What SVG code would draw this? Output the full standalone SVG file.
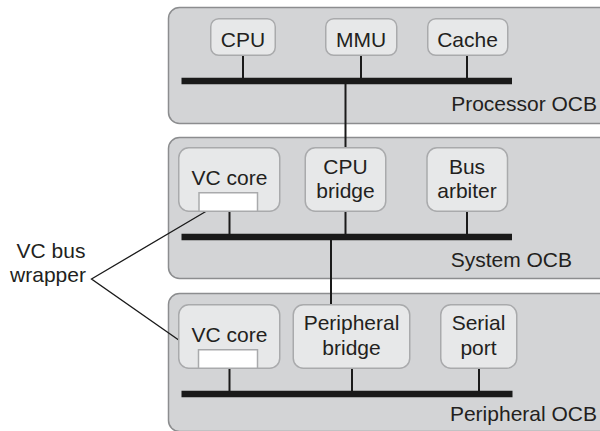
<svg xmlns="http://www.w3.org/2000/svg" width="600" height="431" viewBox="0 0 600 431">
<style>
.panel{fill:#d3d4d6;stroke:#8c8d8f;stroke-width:1.5}
.node{fill:#e7e8e9;stroke:#a9aaac;stroke-width:1.5}
.wrap{fill:#ffffff;stroke:#a9aaac;stroke-width:1.5}
.bus{stroke:#1a1a1a;stroke-width:6.5;fill:none}
.stub{stroke:#1a1a1a;stroke-width:2;fill:none}
.call{stroke:#1a1a1a;stroke-width:1.3;fill:none}
text{font-family:"Liberation Sans",Arial,sans-serif;font-size:21px;fill:#231f20}
.m{text-anchor:middle}
.e{text-anchor:end}
</style>
<rect width="600" height="431" fill="#ffffff"/>
<g id="processor-ocb">
<rect class="panel" x="168.5" y="7.5" width="445" height="116" rx="11"/>
<text class="e" x="597" y="111">Processor OCB</text>
</g>
<g id="system-ocb">
<rect class="panel" x="168.5" y="137.5" width="445" height="141" rx="11"/>
<text class="e" x="572" y="267">System OCB</text>
</g>
<g id="peripheral-ocb">
<rect class="panel" x="168.5" y="293.5" width="445" height="138" rx="11"/>
<text class="e" x="597" y="421">Peripheral OCB</text>
</g>
<g id="connectors">
<line class="bus" x1="181.5" y1="81" x2="512" y2="81"/>
<line class="stub" x1="243" y1="55" x2="243" y2="78"/>
<line class="stub" x1="361" y1="55" x2="361" y2="78"/>
<line class="stub" x1="467" y1="55" x2="467" y2="78"/>
<line class="stub" x1="345.5" y1="84" x2="345.5" y2="148"/>
<line class="bus" x1="181.5" y1="237" x2="512" y2="237"/>
<line class="stub" x1="229.5" y1="211" x2="229.5" y2="234"/>
<line class="stub" x1="345.5" y1="211" x2="345.5" y2="234"/>
<line class="stub" x1="467" y1="211" x2="467" y2="234"/>
<line class="stub" x1="331" y1="240" x2="331" y2="304"/>
<line class="bus" x1="181.5" y1="394" x2="512.5" y2="394"/>
<line class="stub" x1="229.5" y1="368" x2="229.5" y2="391"/>
<line class="stub" x1="352" y1="368" x2="352" y2="391"/>
<line class="stub" x1="479" y1="368" x2="479" y2="391"/>
<polyline class="call" points="210,209 91.5,279 203,357"/>
</g>
<g id="cpu">
<rect class="node" x="210.75" y="18.75" width="64.5" height="36.5" rx="8"/>
<text class="m" x="243" y="46.5">CPU</text>
</g>
<g id="mmu">
<rect class="node" x="325.75" y="18.75" width="71" height="36.5" rx="8"/>
<text class="m" x="361" y="46.5">MMU</text>
</g>
<g id="cache">
<rect class="node" x="427.75" y="18.75" width="80" height="36.5" rx="8"/>
<text class="m" x="467.5" y="46.5">Cache</text>
</g>
<g id="vc-core-system">
<rect class="node" x="178.75" y="147.75" width="101" height="63.5" rx="10"/>
<rect class="wrap" x="199" y="192.75" width="58.5" height="18.5"/>
<text class="m" x="229.5" y="185">VC core</text>
</g>
<g id="cpu-bridge">
<rect class="node" x="305.25" y="147.75" width="80.5" height="63.5" rx="10"/>
<text class="m" x="345.5" y="173.5">CPU</text>
<text class="m" x="345.5" y="198">bridge</text>
</g>
<g id="bus-arbiter">
<rect class="node" x="427" y="147.75" width="80.5" height="63.5" rx="10"/>
<text class="m" x="467" y="173.5">Bus</text>
<text class="m" x="467" y="198">arbiter</text>
</g>
<g id="vc-core-peripheral">
<rect class="node" x="178.75" y="304.75" width="101" height="63.5" rx="10"/>
<rect class="wrap" x="198.5" y="349.75" width="59" height="18.5"/>
<text class="m" x="229.5" y="341.5">VC core</text>
</g>
<g id="peripheral-bridge">
<rect class="node" x="293.25" y="304.75" width="116.5" height="63.5" rx="10"/>
<text class="m" x="351.5" y="330">Peripheral</text>
<text class="m" x="351.5" y="355">bridge</text>
</g>
<g id="serial-port">
<rect class="node" x="440.75" y="304.75" width="76" height="63.5" rx="10"/>
<text class="m" x="478.5" y="330">Serial</text>
<text class="m" x="478.5" y="355">port</text>
</g>
<g id="vc-bus-wrapper-label">
<text class="m" x="51" y="258">VC bus</text>
<text class="m" x="48" y="281.5">wrapper</text>
</g>
</svg>
